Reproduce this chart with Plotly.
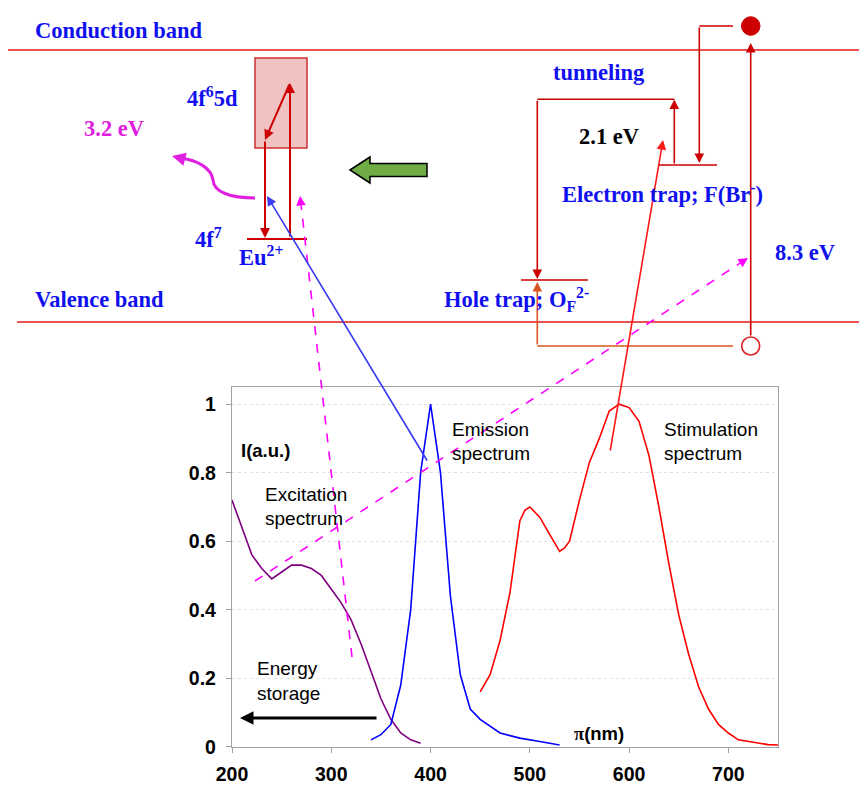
import plotly.graph_objects as go

W, H = 867, 785
OFF = 8  # page body margin offset of the figure in the screenshot

# ---- data ----
exc_nm = [200, 220, 230, 240, 250, 260, 270, 280, 290, 300, 310, 320, 330, 340, 350, 360, 370, 380, 390]
exc_I = [0.72, 0.56, 0.52, 0.49, 0.51, 0.53, 0.53, 0.52, 0.50, 0.46, 0.42, 0.37, 0.30, 0.22, 0.14, 0.08, 0.04, 0.02, 0.01]

em_nm = [340, 350, 360, 370, 380, 390, 400, 410, 420, 430, 440, 450, 470, 490, 510, 530]
em_I = [0.02, 0.035, 0.065, 0.18, 0.40, 0.80, 1.0, 0.80, 0.44, 0.21, 0.11, 0.08, 0.04, 0.025, 0.015, 0.005]

stim_nm = [450, 460, 470, 480, 490, 495, 500, 510, 520, 530, 535, 540, 550, 560, 570, 580, 590, 600,
           610, 620, 630, 640, 650, 660, 670, 680, 690, 700, 710, 720, 730, 740, 750]
stim_I = [0.16, 0.21, 0.31, 0.45, 0.66, 0.69, 0.70, 0.67, 0.62, 0.57, 0.58, 0.60, 0.72, 0.83, 0.90, 0.98, 1.0, 0.99,
          0.95, 0.85, 0.70, 0.535, 0.385, 0.27, 0.175, 0.11, 0.065, 0.04, 0.02, 0.015, 0.01, 0.006, 0.005]

x_ticks = [200, 300, 400, 500, 600, 700]
y_ticks = [0, 0.2, 0.4, 0.6, 0.8, 1.0]
y_ticktext = ["0", "0.2", "0.4", "0.6", "0.8", "1"]

# ---- helpers (screen pixel -> paper) ----
def px(x):
    return (x - OFF) / W

def py(y):
    return 1 - (y - OFF) / H

SANS = "Liberation Sans, Arial, sans-serif"
SERIF = "Liberation Serif, Times New Roman, serif"
BLUE = "#1010EE"
DRED = "#CC0000"
BAND = "#E01818"
SERIF_SIZE = 22.5
SANS_SIZE = 19

fig = go.Figure()
fig.add_trace(go.Scatter(x=exc_nm, y=exc_I, mode="lines", line=dict(color="#800080", width=1.6), hoverinfo="skip"))
fig.add_trace(go.Scatter(x=em_nm, y=em_I, mode="lines", line=dict(color="#0000FF", width=1.6), hoverinfo="skip"))
fig.add_trace(go.Scatter(x=stim_nm, y=stim_I, mode="lines", line=dict(color="#FF0000", width=1.6), hoverinfo="skip"))

shapes = []
annotations = []

def line(x0, y0, x1, y1, color, width=1.6, dash="solid"):
    shapes.append(dict(type="line", xref="paper", yref="paper", x0=px(x0), y0=py(y0), x1=px(x1), y1=py(y1),
                       line=dict(color=color, width=width, dash=dash), layer="above"))

def arrow(xt, yt, xh, yh, color, width=1.6, size=1.0, head=2):
    annotations.append(dict(x=px(xh), y=py(yh), xref="paper", yref="paper", text="", showarrow=True,
                            ax=xt - xh, ay=yt - yh, arrowcolor=color, arrowwidth=width, arrowsize=size,
                            arrowhead=head, standoff=0, startstandoff=0))

def text(x, y, s, color=BLUE, size=SERIF_SIZE, family=SERIF, bold=True, xanchor="left"):
    annotations.append(dict(x=px(x), y=py(y), xref="paper", yref="paper", text=s, showarrow=False,
                            xanchor=xanchor, yanchor="middle",
                            font=dict(family=family, size=size, color=color, weight="bold" if bold else "normal")))

def path(pts_cmd):
    out = []
    for item in pts_cmd:
        if isinstance(item, str):
            out.append(item)
        else:
            out.append(f"{px(item[0]):.5f},{py(item[1]):.5f}")
    return " ".join(out)

# band lines
line(8, 50, 875, 50, BAND, 1.6)
line(17, 322, 875, 322, BAND, 1.6)

# Eu box
shapes.append(dict(type="rect", xref="paper", yref="paper", x0=px(255), y0=py(148), x1=px(307), y1=py(58),
                   fillcolor="#F0C2C2", line=dict(color="#D03030", width=1.5), layer="above"))

# Eu level
line(247, 239, 307, 239, DRED, 2)
arrow(290, 238, 290, 83, DRED, 2)
arrow(290, 83, 265, 140, DRED, 2)
arrow(265, 140, 265, 238, DRED, 2)

# curvy magenta arrow
shapes.append(dict(type="path", xref="paper", yref="paper",
                   path=path(["M", (255, 198), "C", (230, 198), (214, 192), (213, 180), "C", (211, 167), (196, 160), (180, 158)]),
                   line=dict(color="#E020E0", width=3), layer="above"))
arrow(184, 159, 172, 156, "#E020E0", 3, 0.9)

# green block arrow
shapes.append(dict(type="path", xref="paper", yref="paper",
                   path=path(["M", (350, 170), "L", (370, 157), "L", (370, 163.5), "L", (427, 163.5), "L", (427, 176.5),
                              "L", (370, 176.5), "L", (370, 183), "Z"]),
                   fillcolor="#6FAC46", line=dict(color="black", width=1.5), layer="above"))

# right side: traps
shapes.append(dict(type="circle", xref="paper", yref="paper", x0=px(741.5), x1=px(760), y0=py(35.3), y1=py(16.7),
                   fillcolor=DRED, line=dict(color=DRED, width=1), layer="above"))
shapes.append(dict(type="circle", xref="paper", yref="paper", x0=px(741.7), x1=px(759.7), y0=py(355), y1=py(337),
                   fillcolor="white", line=dict(color="#DD2222", width=1.6), layer="above"))
arrow(750.7, 337, 750.7, 43, DRED, 1.6, 1.2)
line(733, 26, 699.3, 26, DRED, 1.6)
arrow(699.3, 26, 699.3, 163, DRED, 1.6, 1.2)
line(658, 165, 717, 165, DRED, 1.6)
arrow(674.3, 165, 674.3, 99.5, DRED, 1.6, 1.2)
line(674.3, 99.3, 537.3, 99.3, DRED, 1.6)
arrow(537.3, 99.3, 537.3, 279, DRED, 1.6, 1.2)
line(521, 280, 588, 280, DRED, 1.6)
line(733, 346, 537.3, 346, "#D9541E", 1.6)
arrow(537.3, 346, 537.3, 282, "#D9541E", 1.6, 1.2)

# long connecting lines
arrow(428, 462, 267, 196, "#3A3AF0", 1.6, 1.2)
line(352, 657, 301.2, 206, "#FF00FF", 1.6, "dash")
arrow(301.2, 207, 300, 196, "#FF00FF", 1.6, 1.2)
line(255, 581, 740, 263.2, "#FF00FF", 1.6, "dash")
arrow(739.6, 263.5, 748, 258, "#FF00FF", 1.6, 1.2)
arrow(610, 452, 663, 140, "#FF1A1A", 1.6, 1.2)

# energy storage arrow
arrow(378, 718, 240, 718, "black", 3, 0.9)

# diagram texts
text(33, 31, "Conduction band")
text(33, 300, "Valence band")
text(185, 97, "4f<sup>6</sup>5d")
text(82, 129, "3.2 eV", color="#E020E0")
text(193, 238, "4f<sup>7</sup>")
text(237, 256, "Eu<sup>2+</sup>")
text(551, 73, "tunneling")
text(577, 137, "2.1 eV", color="black")
text(560, 193, "Electron trap; F(Br<sup>-</sup>)")
text(442, 300, "Hole trap; O<sub>F</sub><sup>2-</sup>")
text(773, 253, "8.3 eV")

# chart texts
text(239, 450, "I(a.u.)", color="black", size=18.5, family=SANS)
text(263, 494, "Excitation", color="black", size=SANS_SIZE, family=SANS, bold=False)
text(263, 518, "spectrum", color="black", size=SANS_SIZE, family=SANS, bold=False)
text(450, 429, "Emission", color="black", size=SANS_SIZE, family=SANS, bold=False)
text(450, 453, "spectrum", color="black", size=SANS_SIZE, family=SANS, bold=False)
text(662, 429, "Stimulation", color="black", size=SANS_SIZE, family=SANS, bold=False)
text(662, 453, "spectrum", color="black", size=SANS_SIZE, family=SANS, bold=False)
text(255, 668, "Energy", color="black", size=SANS_SIZE, family=SANS, bold=False)
text(255, 693, "storage", color="black", size=SANS_SIZE, family=SANS, bold=False)
text(572, 733, "<span style='font-family:Liberation Serif'>π</span>(nm)", color="black", size=18.5, family=SANS)

tickfont = dict(family=SANS, size=19.5, color="black", weight="bold")

fig.update_layout(
    width=W, height=H,
    margin=dict(l=0, r=0, t=0, b=0, pad=0),
    paper_bgcolor="white", plot_bgcolor="white",
    showlegend=False,
    xaxis=dict(domain=[px(232), px(778)], range=[200, 750], tickvals=x_ticks, ticks="outside", ticklen=5,
               tickcolor="#A0A0A0", showline=True, linecolor="#A0A0A0", linewidth=1.3, mirror=True,
               showgrid=False, zeroline=False, tickfont=tickfont, ticklabelstandoff=5, automargin=False),
    yaxis=dict(domain=[py(746.7), py(386.7)], range=[0, 1.051], tickvals=y_ticks, ticktext=y_ticktext,
               ticks="outside", ticklen=5, tickcolor="#A0A0A0", showline=True, linecolor="#A0A0A0", linewidth=1.3,
               mirror=True, showgrid=True, gridcolor="#E2E2E2", griddash="dot", zeroline=False, tickfont=tickfont,
               ticklabelstandoff=6, automargin=False),
    shapes=shapes,
    annotations=annotations,
)

fig.write_html("out.html")
